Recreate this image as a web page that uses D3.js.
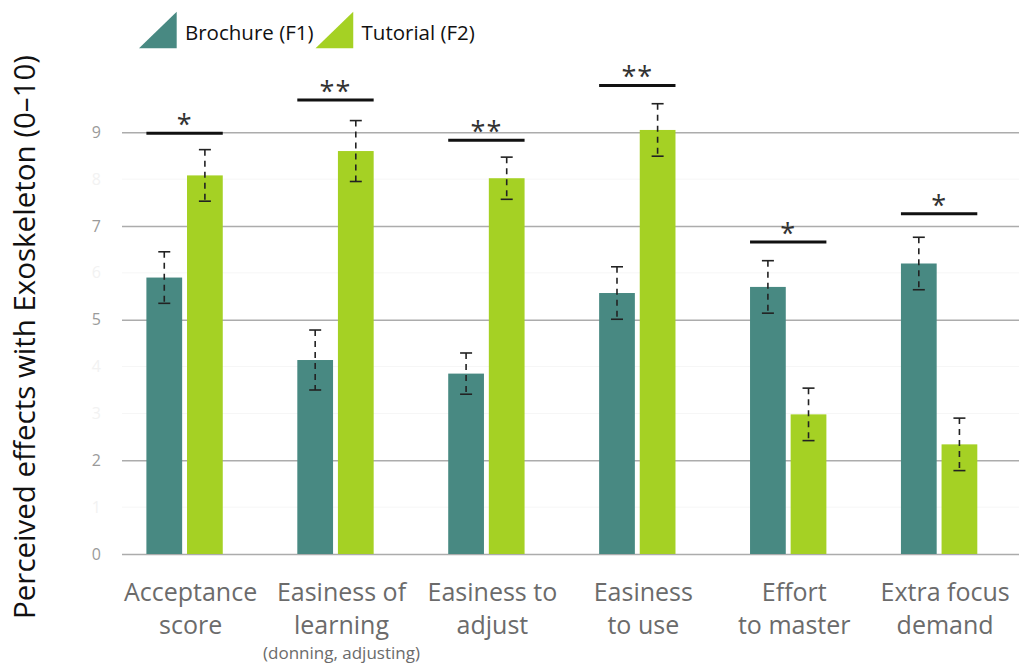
<!DOCTYPE html>
<html>
<head>
<meta charset="utf-8">
<script src="https://cdn.jsdelivr.net/npm/d3@7"></script>
<style>
  html, body { margin: 0; padding: 0; background: #fff; }
  svg { display: block; font-family: "Open Sans", "Noto Sans", sans-serif; }
</style>
</head>
<body>
<svg id="chart" width="1019" height="664"></svg>
<script>
// ---- data ----
const categories = ["Acceptance score", "Easiness of learning", "Easiness to adjust", "Easiness to use", "Effort to master", "Extra focus demand"];
const labelLine1 = ["Acceptance", "Easiness of", "Easiness to", "Easiness", "Effort", "Extra focus"];
const labelLine2 = ["score", "learning", "adjust", "to use", "to master", "demand"];
const labelNote = ["", "(donning, adjusting)", "", "", "", ""];
const seriesNames = ["Brochure (F1)", "Tutorial (F2)"];
const brochure = [5.90, 4.14, 3.85, 5.57, 5.70, 6.20];
const tutorial = [8.08, 8.60, 8.02, 9.05, 2.98, 2.34];
const brochureErr = [0.55, 0.64, 0.44, 0.56, 0.56, 0.56];
const tutorialErr = [0.55, 0.65, 0.45, 0.56, 0.56, 0.56];
const significance = ["*", "**", "**", "**", "*", "*"];
const significanceLevel = [8.98, 9.69, 8.83, 10.0, 6.66, 7.26];
const yMajorTicks = [0, 2, 5, 7, 9];
const yMinorTicks = [1, 3, 4, 6, 8];
const yTitle = "Perceived effects with Exoskeleton (0–10)";

// ---- layout ----
const colors = ["#488982", "#a5d124"];
const svg = d3.select("#chart");

const y = d3.scaleLinear().domain([0, 9]).range([554, 132.3]);
const x = d3.scaleBand().domain(categories).range([146.4, 977.3]).paddingInner(0.494).paddingOuter(0);
const xs = d3.scaleBand().domain(seriesNames).range([0, x.bandwidth()]).paddingInner(0.12).paddingOuter(0);

const gridX0 = 122, gridX1 = 1019;

// faint minor grid + labels (drawn directly from the scale)
const minor = svg.append("g").attr("class", "minor");
minor.selectAll("line").data(yMinorTicks).join("line")
  .attr("x1", gridX0).attr("x2", gridX1)
  .attr("y1", d => y(d)).attr("y2", d => y(d))
  .attr("stroke", "#f6f6f6").attr("stroke-width", 1);
minor.selectAll("text").data(yMinorTicks).join("text")
  .attr("x", 101).attr("y", d => y(d)).attr("dy", "0.34em")
  .attr("text-anchor", "end")
  .style("fill", "#f2f2f2")
  .style("font-size", "16px")
  .text(d => d);

// major axis
const ax = d3.axisLeft(y).tickValues(yMajorTicks).tickSize(-(gridX1 - gridX0))
  .tickFormat(d3.format("d")).tickPadding(21);
const gAx = svg.append("g").attr("transform", `translate(${gridX0},0)`).call(ax);
gAx.select(".domain").remove();
gAx.selectAll(".tick line").attr("stroke", "#acacac").attr("stroke-width", 1.6);
gAx.selectAll(".tick text").attr("fill", "#9a9a9a")
  .style("font-size", "16px").style("font-family", "'Open Sans', sans-serif");

// rows of data
const rows = categories.map((c, i) => ({
  cat: c,
  vals: [
    { s: seriesNames[0], v: brochure[i], e: brochureErr[i] },
    { s: seriesNames[1], v: tutorial[i], e: tutorialErr[i] }
  ],
  sig: significance[i],
  sigLevel: significanceLevel[i]
}));

const groups = svg.append("g").selectAll("g.grp").data(rows).join("g")
  .attr("class", "grp")
  .attr("transform", d => `translate(${x(d.cat)},0)`);

// bars
groups.selectAll("rect").data(d => d.vals).join("rect")
  .attr("x", d => xs(d.s))
  .attr("width", xs.bandwidth())
  .attr("y", d => y(d.v))
  .attr("height", d => y(0) - y(d.v))
  .attr("fill", (d, i) => colors[i]);

// error bars
const eb = groups.selectAll("g.eb").data(d => d.vals).join("g").attr("class", "eb")
  .attr("transform", d => `translate(${xs(d.s) + xs.bandwidth() / 2},0)`);
eb.append("line")
  .attr("y1", d => y(d.v + d.e)).attr("y2", d => y(d.v - d.e))
  .attr("stroke", "#222").attr("stroke-width", 1.6).attr("stroke-dasharray", "6,5");
eb.append("line")
  .attr("x1", -6).attr("x2", 6)
  .attr("y1", d => y(d.v + d.e)).attr("y2", d => y(d.v + d.e))
  .attr("stroke", "#222").attr("stroke-width", 1.6);
eb.append("line")
  .attr("x1", -6).attr("x2", 6)
  .attr("y1", d => y(d.v - d.e)).attr("y2", d => y(d.v - d.e))
  .attr("stroke", "#222").attr("stroke-width", 1.6);

// significance brackets
groups.append("line")
  .attr("x1", 0).attr("x2", x.bandwidth())
  .attr("y1", d => y(d.sigLevel)).attr("y2", d => y(d.sigLevel))
  .attr("stroke", "#111").attr("stroke-width", 3);
groups.append("text")
  .attr("x", x.bandwidth() / 2)
  .attr("y", d => y(d.sigLevel) + 1)
  .attr("text-anchor", "middle")
  .attr("fill", "#333")
  .style("font-size", "27px")
  .style("letter-spacing", "1px")
  .text(d => d.sig);

// category labels
const lab = svg.append("g").selectAll("g.lab").data(categories).join("g")
  .attr("class", "lab")
  .attr("transform", d => `translate(${x(d) + x.bandwidth() / 2 + 6},0)`);
lab.append("text").attr("y", 601).attr("text-anchor", "middle").attr("fill", "#6b6b6b")
  .style("font-size", "25px").text((d, i) => labelLine1[i]);
lab.append("text").attr("y", 634).attr("text-anchor", "middle").attr("fill", "#6b6b6b")
  .style("font-size", "25px").text((d, i) => labelLine2[i]);
lab.append("text").attr("y", 659).attr("text-anchor", "middle").attr("fill", "#6b6b6b")
  .style("font-size", "17px").text((d, i) => labelNote[i]);

// y title
svg.append("text")
  .attr("transform", "translate(35,337) rotate(-90)")
  .attr("text-anchor", "middle")
  .attr("fill", "#111")
  .style("font-size", "29.5px")
  .text(yTitle);

// legend
const legend = svg.append("g");
let lx = 139;
seriesNames.forEach((s, i) => {
  const g = legend.append("g").attr("transform", `translate(${lx},0)`);
  g.append("path").attr("d", "M0,48.3L37.7,48.3L37.7,11.7Z").attr("fill", colors[i]);
  const t = g.append("text").attr("x", 46).attr("y", 40).attr("fill", "#111")
    .style("font-size", "20.5px").text(s);
  lx += 46 + t.node().getComputedTextLength() + 2;
});
</script>
</body>
</html>
